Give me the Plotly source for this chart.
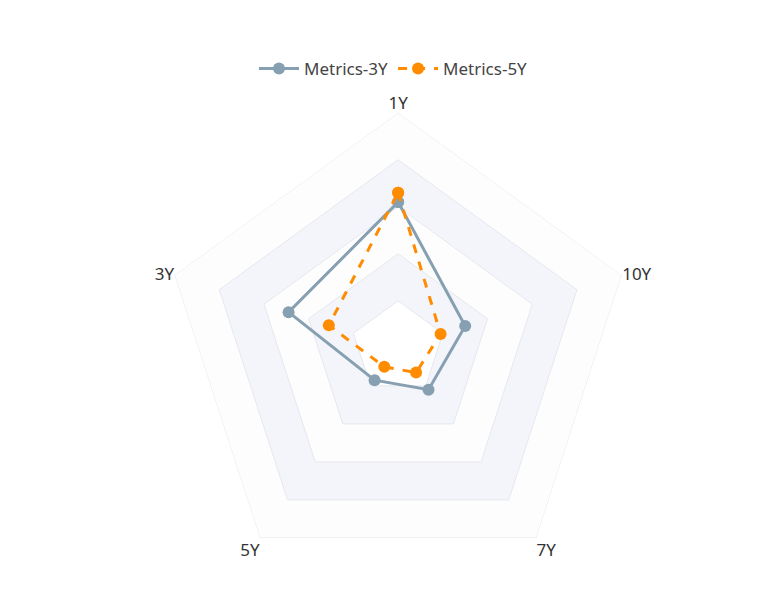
import plotly.graph_objects as go

axes = ["1Y", "10Y", "7Y", "5Y", "3Y"]
metrics_3y = [62, 30, 22, 17, 49]
metrics_5y = [66, 19, 13, 10, 31]
levels = [100, 80, 60, 40, 20]
band_colors = ["#fdfdfe", "#f3f5fa", "#fdfdfe", "#f3f5fa", "#ffffff"]

fig = go.Figure()
for lv, c in zip(levels, band_colors):
    fig.add_trace(go.Scatterpolar(r=[lv]*6, theta=axes+[axes[0]], mode="lines",
        fill="toself", fillcolor=c, line=dict(color="#e6e8ee", width=1),
        showlegend=False, hoverinfo="skip"))

fig.add_trace(go.Scatterpolar(r=metrics_3y+[metrics_3y[0]], theta=axes+[axes[0]],
    mode="lines+markers", name="Metrics-3Y",
    line=dict(color="#87a0b1", width=3), marker=dict(size=12, color="#87a0b1")))
fig.add_trace(go.Scatterpolar(r=metrics_5y+[metrics_5y[0]], theta=axes+[axes[0]],
    mode="lines+markers", name="Metrics-5Y",
    line=dict(color="#ff8c00", width=3, dash="dash"), marker=dict(size=12, color="#ff8c00")))

fig.update_layout(
    width=771, height=609, margin=dict(l=0, r=0, t=0, b=0),
    paper_bgcolor="white", plot_bgcolor="white",
    font=dict(family="Noto Sans", size=16, color="#333"),
    legend=dict(orientation="h", x=0.5, xanchor="center", y=0.9, yanchor="middle",
                font=dict(size=17, color="#444"), itemwidth=40),
    polar=dict(
        domain=dict(x=[0.201, 0.811], y=[0.056, 0.828]),
        gridshape="linear", bgcolor="white",
        radialaxis=dict(range=[0, 100], visible=False),
        angularaxis=dict(rotation=90, direction="clockwise", showgrid=True,
                         gridcolor="#cfd3da", showline=False, layer="above traces",
                         tickfont=dict(size=17, color="#333"), ticks=""),
    ),
)
fig.write_html("out.html")
